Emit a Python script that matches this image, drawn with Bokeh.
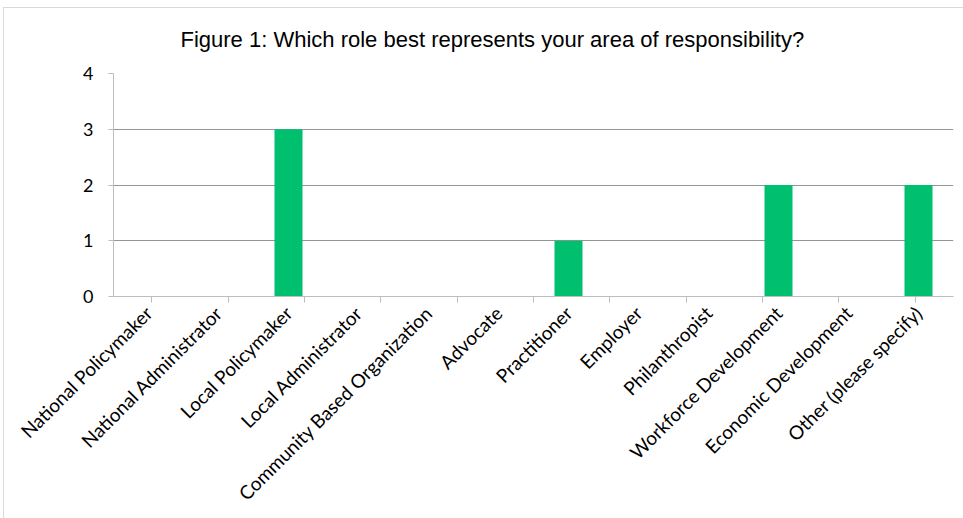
import math
from bokeh.plotting import figure
from bokeh.models import (FactorRange, Range1d, CategoricalAxis,
                          FixedTicker, ColumnDataSource, CustomLabelingPolicy)
from bokeh.embed import file_html
from bokeh.resources import INLINE

title_text = "Figure 1: Which role best represents your area of responsibility?"
categories = [
    "National Policymaker",
    "National Administrator",
    "Local Policymaker",
    "Local Administrator",
    "Community Based Organization",
    "Advocate",
    "Practitioner",
    "Employer",
    "Philanthropist",
    "Workforce Development",
    "Economic Development",
    "Other (please specify)",
]
counts = [0, 0, 3, 0, 0, 0, 1, 0, 0, 2, 0, 2]
y_ticks = [0, 1, 2, 3, 4]

BAR = "#00C070"
GRID = "#959595"
AXIS = "#bdbdbd"
FRAME = "#d9d9d9"

src = ColumnDataSource(dict(cat=categories, n=counts))

p = figure(
    width=963, height=518,
    x_range=FactorRange(factors=categories),
    y_range=Range1d(y_ticks[0], y_ticks[-1]),
    x_axis_location=None,
    output_backend="svg", toolbar_location=None, tools="",
    min_border_left=113, min_border_right=10,
    min_border_top=73, min_border_bottom=222,
)
p.border_fill_color = None
p.background_fill_color = None
# light chart-area border on the top and left edges (it runs off the page on the other two)
p.styles = {
    "background-color": "#ffffff",
    "background-image": f"linear-gradient({FRAME},{FRAME}), linear-gradient({FRAME},{FRAME})",
    "background-size": "1px 100%, 100% 1px",
    "background-position": "3px 7px, 3px 7px",
    "background-repeat": "no-repeat",
}

p.vbar(x="cat", top="n", width=0.4, source=src, fill_color=BAR, line_color=None)

# tick marks between the categories: a companion factor range of the edges
edges = [str(i) for i in range(len(categories) + 1)]
p.extra_x_ranges = {"edges": FactorRange(factors=edges, range_padding=-1,
                                         range_padding_units="absolute")}
tick_axis = CategoricalAxis(x_range_name="edges")
tick_axis.axis_line_color = AXIS
tick_axis.major_tick_line_color = AXIS
tick_axis.major_tick_out = 6
tick_axis.major_tick_in = 0
tick_axis.minor_tick_line_color = None
tick_axis.major_label_overrides = {e: "" for e in edges}
tick_axis.major_label_text_font_size = "0px"
tick_axis.major_label_standoff = 0
tick_axis.major_label_policy = CustomLabelingPolicy(code="""
try {
  for (const i of Array.from(indices)) indices.unset(i)
} catch (e) {}
return indices
""")
p.add_layout(tick_axis, "below")

cat_axis = CategoricalAxis()
cat_axis.axis_line_color = None
cat_axis.major_tick_line_color = None
cat_axis.minor_tick_line_color = None
cat_axis.major_label_orientation = math.pi / 4
cat_axis.major_label_text_font = "Lato"
cat_axis.major_label_text_font_size = "19px"
cat_axis.major_label_text_color = "#000000"
cat_axis.major_label_standoff = 1
p.add_layout(cat_axis, "below")

p.yaxis.ticker = FixedTicker(ticks=y_ticks)
p.yaxis.axis_line_color = AXIS
p.yaxis.major_tick_line_color = AXIS
p.yaxis.major_tick_out = 5
p.yaxis.major_tick_in = 0
p.yaxis.minor_tick_line_color = None
p.yaxis.major_label_text_font = "Lato"
p.yaxis.major_label_text_font_size = "18px"
p.yaxis.major_label_text_color = "#000000"
p.yaxis.major_label_standoff = 15

p.xgrid.grid_line_color = None
p.ygrid.grid_line_color = GRID
p.ygrid.ticker = FixedTicker(ticks=y_ticks)
p.outline_line_color = None

p.title.text = title_text
p.title.text_font = "Liberation Sans"
p.title.text_font_size = "22px"
p.title.text_font_style = "normal"
p.title.text_color = "#000000"
p.title.align = "left"
p.title.offset = 67
p.title.standoff = 44

open("out.html", "w").write(file_html(p, INLINE))
